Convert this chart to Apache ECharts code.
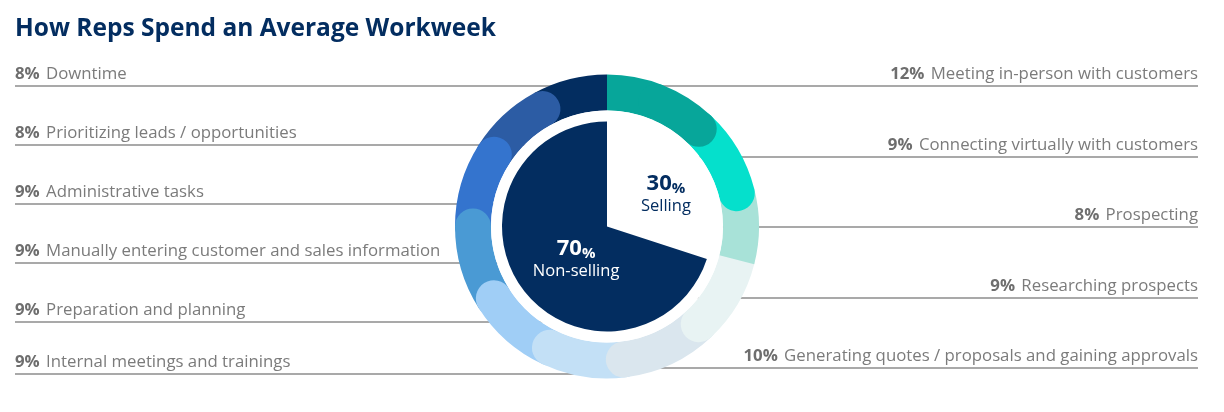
<!DOCTYPE html>
<html>
<head>
<meta charset="utf-8">
<style>
    html, body { margin: 0; padding: 0; background: #fff; }
    #main { width: 1224px; height: 412px; }
</style>
<script src="https://cdn.jsdelivr.net/npm/echarts@6/dist/echarts.min.js"></script>
</head>
<body>
<div id="main"></div>
<script>
    // outer ring, clockwise from 12 o'clock
    const activities = [
        'Meeting in-person with customers',
        'Connecting virtually with customers',
        'Prospecting',
        'Researching prospects',
        'Generating quotes / proposals and gaining approvals',
        'Internal meetings and trainings',
        'Preparation and planning',
        'Manually entering customer and sales information',
        'Administrative tasks',
        'Prioritizing leads / opportunities',
        'Downtime'
    ];
    const shares = [12, 9, 8, 9, 10, 9, 9, 9, 9, 8, 8];
    // inner pie
    const groups = ['Selling', 'Non-selling'];
    const groupShares = [30, 70];

    const ringColors = ['#07a69a', '#05e0cc', '#a8e2d8', '#e8f3f3', '#dae6ee', '#c3e0f6',
        '#a0cef6', '#4a9ad4', '#3474ce', '#2c5ca4', '#032d60'];
    const roundEnd = [true, true, false, true, true, true, true, true, true, true, false];

    const cx = 607, cy = 226.5;
    const rightRows = [0, 1, 2, 3, 4];           // top to bottom
    const leftRows = [10, 9, 8, 7, 6, 5];
    const rightY = [86, 157, 227, 298, 368];
    const leftY = [86, 145, 204, 263, 322, 374];

    const font = '"Open Sans", "Noto Sans", sans-serif';
    const chart = echarts.init(document.getElementById('main'));

    const ringSeries = [];
    shares.forEach(function (v, i) {
        const base = {
            type: 'bar',
            coordinateSystem: 'polar',
            stack: 'ring',
            barCategoryGap: '0%',
            silent: true,
            itemStyle: { color: ringColors[i] },
            z: 30 - i
        };
        if (i === 0) {
            // first slice starts flat at 12 o'clock, only its end is rounded
            ringSeries.push(Object.assign({}, base, { name: activities[i] + ' a', data: [v / 2], roundCap: false, z: 5 }));
            ringSeries.push(Object.assign({}, base, { name: activities[i], data: [v / 2], roundCap: true, z: 31 }));
        } else {
            ringSeries.push(Object.assign({}, base, { name: activities[i], data: [v], roundCap: roundEnd[i] }));
        }
    });

    function labelText(i) {
        return '{p|' + shares[i] + '%} {n|' + activities[i] + '}';
    }
    const labelRich = {
        p: { fontFamily: font, fontSize: 16.8, fontWeight: 'bold', fill: '#6e6e6e', color: '#6e6e6e' },
        n: { fontFamily: font, fontSize: 16.8, fill: '#7b7b7b', color: '#7b7b7b', padding: [0, 0, 0, 3] }
    };

    const graphics = [];
    leftRows.forEach(function (idx, k) {
        graphics.push({
            type: 'line', z: 1, silent: true,
            shape: { x1: 15, y1: leftY[k], x2: cx, y2: leftY[k] },
            style: { stroke: '#8c8c8c', lineWidth: 1.4 }
        });
        graphics.push({
            type: 'text', z: 50, silent: true, x: 15, y: leftY[k] - 12,
            style: { text: labelText(idx), rich: labelRich, align: 'left', verticalAlign: 'middle' }
        });
    });
    rightRows.forEach(function (idx, k) {
        graphics.push({
            type: 'line', z: 1, silent: true,
            shape: { x1: cx, y1: rightY[k], x2: 1198, y2: rightY[k] },
            style: { stroke: '#8c8c8c', lineWidth: 1.4 }
        });
        graphics.push({
            type: 'text', z: 50, silent: true, x: 1198, y: rightY[k] - 12,
            style: { text: labelText(idx), rich: labelRich, align: 'right', verticalAlign: 'middle' }
        });
    });

    const option = {
        animation: false,
        title: {
            text: 'How Reps Spend an Average Workweek',
            left: 10,
            top: 12,
            textStyle: { fontFamily: font, fontSize: 24.5, fontWeight: 'bold', color: '#032d60' }
        },
        polar: { center: [cx, cy], radius: [116, 152] },
        angleAxis: { type: 'value', min: 0, max: 100, startAngle: 90, clockwise: true, show: false },
        radiusAxis: { type: 'category', data: ['ring'], show: false },
        graphic: graphics,
        series: ringSeries.concat([
            {
                type: 'pie',
                silent: true,
                center: [cx, cy],
                radius: [0, 116],
                z: 40,
                label: { show: false },
                data: [{ value: 1, itemStyle: { color: '#ffffff' } }]
            },
            {
                type: 'pie',
                silent: true,
                center: [cx, cy],
                radius: [0, 105],
                startAngle: 90,
                clockwise: true,
                z: 41,
                label: {
                    show: true,
                    position: 'inner',
                    padding: [0, 0, 0, 28],
                    formatter: function (p) {
                        return '{v|' + p.value + '}{s|%}\n{n|' + p.name + '}';
                    }
                },
                labelLine: { show: false },
                data: groups.map(function (g, i) {
                    const dark = i === 1;
                    const c = dark ? '#ffffff' : '#032d60';
                    return {
                        name: g,
                        value: groupShares[i],
                        itemStyle: { color: dark ? '#032d60' : '#ffffff' },
                        label: {
                            rich: {
                                v: { fontFamily: font, fontSize: 22, fontWeight: 'bold', color: c, lineHeight: 24 },
                                s: { fontFamily: font, fontSize: 15, fontWeight: 'bold', color: c, lineHeight: 24, verticalAlign: 'bottom' },
                                n: { fontFamily: font, fontSize: 16.5, color: c, lineHeight: 20 }
                            }
                        }
                    };
                })
            }
        ])
    };

    chart.setOption(option);
</script>
</body>
</html>
